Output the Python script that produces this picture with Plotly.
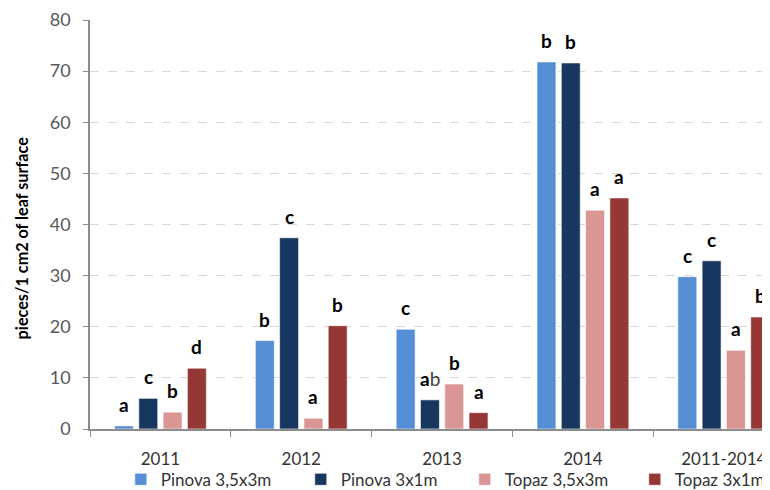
import plotly.graph_objects as go

categories = ["2011", "2012", "2013", "2014", "2011-2014"]
series_names = ["Pinova 3,5x3m", "Pinova 3x1m", "Topaz 3,5x3m", "Topaz 3x1m"]
pinova_35x3 = [0.6, 17.3, 19.5, 71.8, 29.8]
pinova_3x1 = [6.0, 37.4, 5.7, 71.6, 32.9]
topaz_35x3 = [3.3, 2.1, 8.8, 42.8, 15.4]
topaz_3x1 = [11.9, 20.2, 3.2, 45.2, 21.9]
letters_pinova_35x3 = ["a", "b", "c", "b", "c"]
letters_pinova_3x1 = ["c", "c", "a|b", "b", "c"]
letters_topaz_35x3 = ["b", "a", "b", "a", "a"]
letters_topaz_3x1 = ["d", "b", "a", "a", "b"]
y_ticks = [0, 10, 20, 30, 40, 50, 60, 70, 80]
y_title = "pieces/1 cm2 of leaf surface"

colors = ["#558ED5", "#17375E", "#D99694", "#953735"]
values = [pinova_35x3, pinova_3x1, topaz_35x3, topaz_3x1]
letters = [letters_pinova_35x3, letters_pinova_3x1, letters_topaz_35x3, letters_topaz_3x1]
legend_ids = ["legend", "legend2", "legend3", "legend4"]
legend_x = [0.0456, 0.3118, 0.5544, 0.8059]

FONT = "Lato"
bargap = 0.31
slot = (1 - bargap) / 4

fig = go.Figure()
for name, vals, col, lid in zip(series_names, values, colors, legend_ids):
    fig.add_trace(go.Bar(
        x=categories, y=vals, name=name, legend=lid,
        marker=dict(color=col, line=dict(color="rgba(255,255,255,0.6)", width=1)),
    ))

annotations = []
for si, (vals, labs) in enumerate(zip(values, letters)):
    for ci, (v, lab) in enumerate(zip(vals, labs)):
        if "|" in lab:
            a, b = lab.split("|")
            txt = "<b>%s</b><span style='color:#404040'>%s</span>" % (a, b)
        else:
            txt = "<b>%s</b>" % lab
        annotations.append(dict(
            x=ci + (si - 1.5) * slot, y=v, xref="x", yref="y",
            text=txt, showarrow=False, yanchor="bottom", yshift=8,
            font=dict(family=FONT, size=19, color="#000000"),
        ))

annotations.append(dict(
    x=0, y=0.466, xref="paper", yref="paper", xshift=-69,
    text="<b>%s</b>" % y_title, textangle=-90, showarrow=False,
    xanchor="center", yanchor="middle",
    font=dict(family=FONT, size=16.2, color="#000000"),
))

legend_layouts = {}
for lid, lx in zip(legend_ids, legend_x):
    legend_layouts[lid] = dict(
        orientation="h", x=lx, xanchor="left", y=-0.124, yanchor="middle",
        font=dict(family=FONT, size=17, color="#333333"),
        itemwidth=30, bgcolor="rgba(0,0,0,0)",
    )

fig.update_layout(
    width=762, height=490,
    margin=dict(l=82, r=0, t=12, b=68),
    paper_bgcolor="white", plot_bgcolor="white",
    barmode="group", bargap=bargap, bargroupgap=0.22,
    font=dict(family=FONT, color="#404040"),
    annotations=annotations,
    showlegend=True,
    **legend_layouts,
)
fig.update_xaxes(
    type="category", range=[-0.5, 4.30],
    showline=True, linecolor="#8c8c8c", linewidth=1.5,
    ticks="outside", tickson="boundaries", ticklen=6, tickcolor="#8c8c8c",
    ticklabelstandoff=14,
    tickfont=dict(family=FONT, size=17, color="#333333"),
    showgrid=False,
)
fig.update_yaxes(
    range=[0, 80], tickvals=y_ticks,
    showline=True, linecolor="#8c8c8c", linewidth=1.5,
    ticks="outside", ticklen=5, tickcolor="#8c8c8c",
    ticklabelstandoff=9,
    tickfont=dict(family=FONT, size=18, color="#595959"),
    showgrid=True, gridcolor="#d9d9d9", griddash="dash", gridwidth=1,
    zeroline=False,
)

fig.write_html("out.html")
